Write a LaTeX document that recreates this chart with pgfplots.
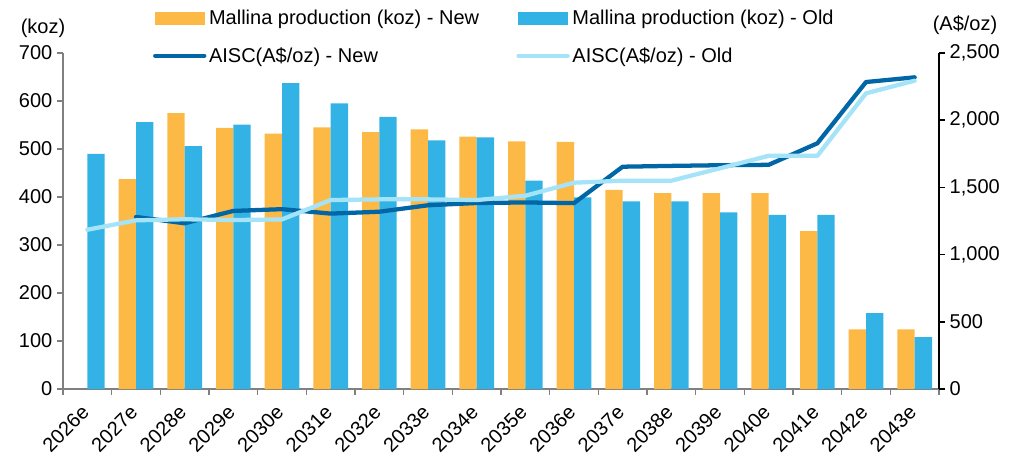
\documentclass[border=0pt]{standalone}
\usepackage{fontspec}
\setmainfont{Liberation Sans}
\usepackage{pgfplots}
\pgfplotsset{compat=1.18}
\definecolor{cnew}{RGB}{253,185,69}
\definecolor{cold}{RGB}{51,179,229}
\definecolor{lnew}{RGB}{0,102,166}
\definecolor{lold}{RGB}{165,228,248}
\definecolor{axgray}{RGB}{128,128,128}
\newcommand{\ff}{\fontsize{15}{18}\selectfont}
\begin{document}
\begin{tikzpicture}
\useasboundingbox (0,0) rectangle (768.75pt,342.75pt);
\pgfplotsset{
  common/.style={
    at={(47.25pt,51pt)}, anchor=south west,
    scale only axis, width=657pt, height=252pt,
    xmin=-0.5, xmax=17.5,
    /pgf/number format/assume math mode=true,
    tick label style={font=\ff},
    tick align=outside,
    major tick length=4.5pt,
    clip=false,
  }
}
\begin{axis}[common,
  ymin=0, ymax=700, ytick={0,100,...,700},
  axis x line*=bottom, axis y line*=left,
  axis line style={axgray, line width=1.2pt},
  tick style={axgray, line width=1.2pt},
  xtick={-0.5,0.5,1.5,2.5,3.5,4.5,5.5,6.5,7.5,8.5,9.5,10.5,11.5,12.5,13.5,14.5,15.5,16.5,17.5},
  xticklabels={},
  extra x ticks={0,1,2,3,4,5,6,7,8,9,10,11,12,13,14,15,16,17},
  extra x tick labels={2026e,2027e,2028e,2029e,2030e,2031e,2032e,2033e,2034e,2035e,2036e,2037e,2038e,2039e,2040e,2041e,2042e,2043e},
  extra x tick style={major tick length=0pt, tick style={draw=none}},
  x tick label style={xshift=1pt, yshift=-12.5pt, rotate=45, anchor=east},
  ybar, bar width=13pt,
]
\addplot[fill=cnew, draw=none, bar shift=-6.5pt] coordinates {
(1,437) (2,575) (3,544) (4,532) (5,545) (6,535) (7,541) (8,526) (9,516)
(10,515) (11,415) (12,408) (13,408) (14,408) (15,329) (16,124) (17,124)};
\addplot[fill=cold, draw=none, bar shift=6.5pt] coordinates {
(0,490) (1,556) (2,506) (3,551) (4,637) (5,595) (6,567) (7,518) (8,524)
(9,434) (10,399) (11,391) (12,391) (13,368) (14,363) (15,363) (16,158) (17,108)};
\node[font=\ff] at (rel axis cs:-0.0228,1.074) {(koz)};
\end{axis}
\begin{axis}[common,
  ymin=0, ymax=2500, ytick={0,500,...,2500},
  /pgf/number format/1000 sep={,},
  axis x line=none, axis y line*=right,
  axis line style={black, line width=1.2pt},
  tick style={black, line width=1.2pt},
  legend columns=2,
  legend cell align=left,
  legend style={at={(0.098,1.146)}, anchor=north west, draw=none, fill=none,
    font=\ff, row sep=12pt,
    /tikz/every even column/.append style={column sep=26pt}},
]
\addlegendimage{legend image code/.code={\fill[cnew] (0pt,-4.5pt) rectangle (36.75pt,4.5pt);}}
\addlegendentry{Mallina production (koz) - New}
\addlegendimage{legend image code/.code={\fill[cold] (0pt,-4.5pt) rectangle (36.75pt,4.5pt);}}
\addlegendentry{Mallina production (koz) - Old}
\addplot[lnew, line width=3.2pt, line join=round, line cap=round,
  legend image code/.code={\draw[lnew, line width=3.2pt, line cap=round] (0pt,0pt) -- (36.75pt,0pt);}]
coordinates {
(1,1280) (2,1233) (3,1325) (4,1338) (5,1305) (6,1319) (7,1367) (8,1384) (9,1388)
(10,1383) (11,1654) (12,1660) (13,1665) (14,1668) (15,1828) (16,2284) (17,2319)};
\addlegendentry{AISC(A\$/oz) - New}
\addplot[lold, line width=3.2pt, line join=round, line cap=round,
  legend image code/.code={\draw[lold, line width=3.2pt, line cap=round] (0pt,0pt) -- (36.75pt,0pt);}]
coordinates {
(0,1185) (1,1255) (2,1263) (3,1257) (4,1262) (5,1406) (6,1411) (7,1411) (8,1406)
(9,1438) (10,1535) (11,1550) (12,1550) (13,1642) (14,1735) (15,1735) (16,2200) (17,2294)};
\addlegendentry{AISC(A\$/oz) - Old}
\node[font=\ff] at (rel axis cs:1.0297,1.083) {(A\$/oz)};
\end{axis}
\end{tikzpicture}
\end{document}
